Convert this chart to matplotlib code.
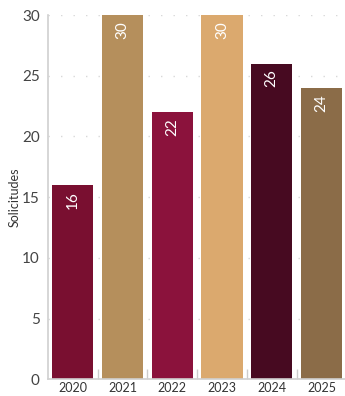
import matplotlib.pyplot as plt
import numpy as np

years = ["2020", "2021", "2022", "2023", "2024", "2025"]
solicitudes = [16, 30, 22, 30, 26, 24]
colors = ["#790f30", "#b58f5c", "#8b123c", "#dba96e", "#470a21", "#8b6c48"]

plt.rcParams["font.family"] = ["Lato", "DejaVu Sans"]

fig = plt.figure(figsize=(3.45, 3.96), dpi=100)
ax = fig.add_axes([0.139, 0.042, 0.865, 0.920])

x = np.arange(len(years))
bars = ax.bar(x, solicitudes, width=0.83, color=colors, zorder=2, clip_on=False)

for xi, v in zip(x, solicitudes):
    ax.text(xi, v - 0.5, str(v), rotation=90, ha="center", va="top",
            color="white", fontsize=11, zorder=3)

ax.set_xlim(-0.5, 5.5)
ax.set_ylim(0, 30)
ax.set_yticks([0, 5, 10, 15, 20, 25, 30])
ax.set_xticks(x)
ax.set_xticklabels(years)
ax.tick_params(axis="y", length=0, labelsize=11, labelcolor="#444444", pad=6)
ax.tick_params(axis="x", length=0, labelsize=9, labelcolor="#333333", pad=2)

# small separators between categories
ax.set_xticks(np.arange(0.5, 5.5, 1), minor=True)
ax.tick_params(axis="x", which="minor", direction="in", length=7, color="#cccccc", width=1)

ax.yaxis.grid(True, color="#d8d8d8", linestyle=(0, (1, 8)), linewidth=1, zorder=0)
for s in ["top", "right"]:
    ax.spines[s].set_visible(False)
ax.spines["left"].set_color("#d0d0d0")
ax.spines["bottom"].set_color("#d0d0d0")
ax.spines["left"].set_linewidth(1.2)
ax.spines["bottom"].set_linewidth(1.2)

ax.set_ylabel("Solicitudes", fontsize=9, color="#333333", labelpad=1)

plt.savefig("out.png", dpi=100)
